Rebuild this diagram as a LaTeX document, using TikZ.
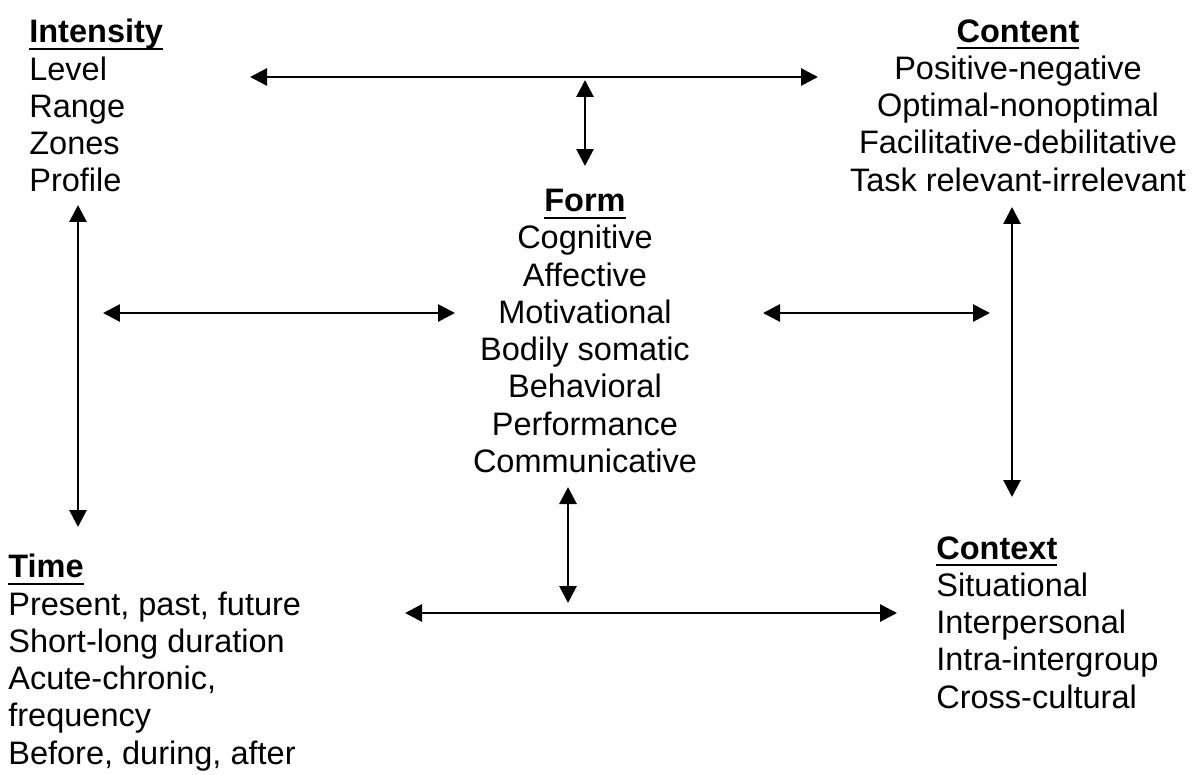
\documentclass[tikz,border=0pt]{standalone}
\usepackage{fontspec}
\setmainfont{Liberation Sans}
\usetikzlibrary{arrows.meta}
\tikzset{
  lbl/.style={inner sep=0pt, font=\fontsize{18.5}{21.2}\selectfont},
  twoway/.style={{Triangle[length=0.34cm,width=0.34cm]}-{Triangle[length=0.34cm,width=0.34cm]}, line width=1.6pt}
}
\newcommand{\head}[1]{\textbf{\setbox0\hbox{#1}\rlap{\rule[-4.2pt]{\wd0}{1.3pt}}\box0}}
\begin{document}
\begin{tikzpicture}[x=0.02cm,y=-0.02cm]
\useasboundingbox (0,0) rectangle (1196,774);
\node [lbl, anchor=north west, align=left] (intensity) at (29,19) {\head{Intensity}\\Level\\Range\\Zones\\Profile};
\node [lbl, anchor=north, align=center] (content) at (1018,19) {\head{Content}\\Positive-negative\\Optimal-nonoptimal\\Facilitative-debilitative\\Task relevant-irrelevant};
\node [lbl, anchor=north, align=center] (form) at (585,189) {\head{Form}\\Cognitive\\Affective\\Motivational\\Bodily somatic\\Behavioral\\Performance\\Communicative};
\node [lbl, anchor=north west, align=left] (time) at (8,554) {\head{Time}\\Present, past, future\\Short-long duration\\Acute-chronic,\\frequency\\Before, during, after};
\node [lbl, anchor=north west, align=left] (context) at (936,536) {\head{Context}\\Situational\\Interpersonal\\Intra-intergroup\\Cross-cultural};
\coordinate (topL) at (250,77);
\coordinate (topR) at (818,77);
\coordinate (topA) at (585,80);
\coordinate (topB) at (585,166);
\coordinate (leftA) at (78,205);
\coordinate (leftB) at (78,527);
\coordinate (midL) at (103,313);
\coordinate (midLR) at (455,313);
\coordinate (midRL) at (763,313);
\coordinate (midR) at (990,313);
\coordinate (rightA) at (1012,207);
\coordinate (rightB) at (1012,497);
\coordinate (botA) at (568,487);
\coordinate (botB) at (568,603);
\coordinate (botL) at (405,613);
\coordinate (botR) at (897,613);
\draw [twoway] (topL) -- (topR);
\draw [twoway] (topA) -- (topB);
\draw [twoway] (leftA) -- (leftB);
\draw [twoway] (midL) -- (midLR);
\draw [twoway] (midRL) -- (midR);
\draw [twoway] (rightA) -- (rightB);
\draw [twoway] (botA) -- (botB);
\draw [twoway] (botL) -- (botR);
\end{tikzpicture}
\end{document}
